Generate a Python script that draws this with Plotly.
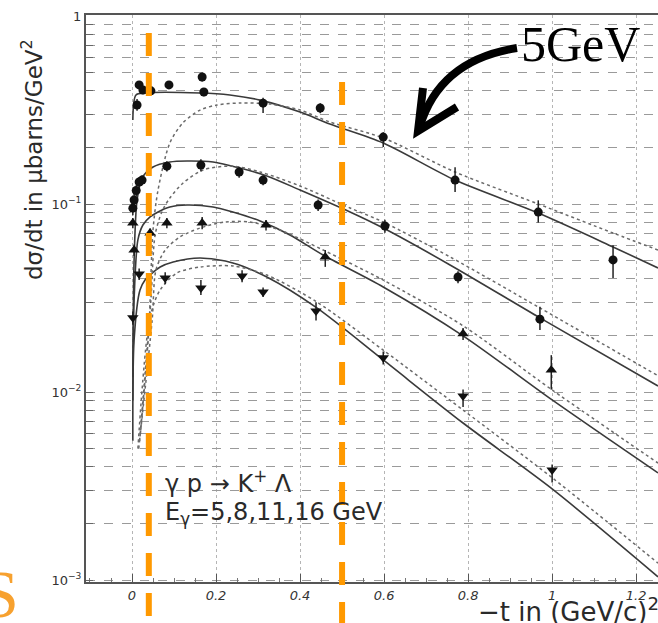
import plotly.graph_objects as go

# ---------------- data ----------------
# measured points: -t (GeV/c)^2 and dsigma/dt (microbarn/GeV^2)
t5 = [0.012, 0.017, 0.026, 0.045, 0.088, 0.167, 0.171, 0.312, 0.448, 0.598, 0.769, 0.967, 1.145]
s5 = [0.336, 0.430, 0.404, 0.400, 0.430, 0.474, 0.394, 0.344, 0.324, 0.227, 0.134, 0.0906, 0.0504]
s5_up = [0.026, 0.02, 0.02, 0.02, 0.02, 0.025, 0.02, 0.023, 0.02, 0.014, 0.023, 0.014, 0.010]
s5_dn = [0.023, 0.02, 0.02, 0.02, 0.02, 0.025, 0.02, 0.039, 0.02, 0.026, 0.018, 0.011, 0.010]

t8 = [0.002, 0.005, 0.010, 0.017, 0.024, 0.083, 0.164, 0.255, 0.312, 0.443, 0.602, 0.776, 0.971]
s8 = [0.095, 0.105, 0.118, 0.131, 0.134, 0.159, 0.161, 0.148, 0.134, 0.0988, 0.0764, 0.0409, 0.0244]
s8_up = [0.008, 0.008, 0.008, 0.008, 0.008, 0.010, 0.012, 0.010, 0.008, 0.007, 0.006, 0.003, 0.004]
s8_dn = [0.008, 0.008, 0.008, 0.008, 0.008, 0.010, 0.012, 0.010, 0.008, 0.007, 0.006, 0.003, 0.003]

t11 = [0.002, 0.005, 0.043, 0.083, 0.167, 0.319, 0.460, 0.788, 0.998]
s11 = [0.0793, 0.0569, 0.0701, 0.0793, 0.0793, 0.0773, 0.0523, 0.0204, 0.0131]
s11_up = [0.005, 0.004, 0.004, 0.005, 0.006, 0.005, 0.0046, 0.0015, 0.0026]
s11_dn = [0.005, 0.004, 0.004, 0.005, 0.006, 0.005, 0.006, 0.0015, 0.0028]

t16 = [0.002, 0.017, 0.079, 0.164, 0.262, 0.312, 0.438, 0.598, 0.788, 1.0]
s16 = [0.0248, 0.0424, 0.0404, 0.0357, 0.0414, 0.0340, 0.0270, 0.0152, 0.00952, 0.00385]
s16_up = [0.002, 0.003, 0.003, 0.0037, 0.003, 0.002, 0.003, 0.0012, 0.0008, 0.00026]
s16_dn = [0.002, 0.003, 0.003, 0.0029, 0.003, 0.002, 0.003, 0.0012, 0.0012, 0.00055]

# model curves (solid and dotted)
c5_t = [0.002, 0.0095, 0.031, 0.162, 0.233, 0.305, 0.400, 0.471, 0.598, 0.769, 0.967, 1.145, 1.252]
c5_s = [0.280, 0.380, 0.3895, 0.3895, 0.380, 0.357, 0.3085, 0.2664, 0.211, 0.134, 0.0895, 0.0591, 0.0457]
d5_t = [0.020, 0.040, 0.050, 0.062, 0.090, 0.121, 0.162, 0.202, 0.257, 0.329, 0.400, 0.471, 0.598, 0.769, 0.967, 1.145, 1.252]
d5_s = [0.006, 0.0214, 0.0727, 0.1187, 0.211, 0.270, 0.316, 0.336, 0.3446, 0.340, 0.316, 0.273, 0.2244, 0.148, 0.100, 0.0701, 0.0569]

c8_t = [0.002, 0.005, 0.012, 0.024, 0.050, 0.090, 0.131, 0.193, 0.257, 0.321, 0.400, 0.519, 0.598, 0.757, 0.971, 1.252]
c8_s = [0.012, 0.0504, 0.105, 0.1375, 0.1573, 0.1673, 0.1694, 0.1673, 0.1553, 0.141, 0.1187, 0.0907, 0.0745, 0.0474, 0.0248, 0.01076]
d8_t = [0.018, 0.045, 0.055, 0.071, 0.090, 0.121, 0.169, 0.240, 0.305, 0.400, 0.519, 0.598, 0.757, 0.971, 1.252]
d8_s = [0.0055, 0.0309, 0.0684, 0.0907, 0.1076, 0.129, 0.1517, 0.159, 0.148, 0.1247, 0.0952, 0.0802, 0.0523, 0.0280, 0.0122]

c11_t = [0.002, 0.005, 0.014, 0.026, 0.043, 0.062, 0.090, 0.131, 0.193, 0.240, 0.305, 0.376, 0.455, 0.598, 0.788, 1.0, 1.252]
c11_s = [0.009, 0.0309, 0.0644, 0.0773, 0.0853, 0.0907, 0.0964, 0.0988, 0.0964, 0.0907, 0.0812, 0.0684, 0.0535, 0.0362, 0.0199, 0.00907, 0.00371]
d11_t = [0.016, 0.048, 0.057, 0.079, 0.114, 0.162, 0.221, 0.281, 0.352, 0.455, 0.598, 0.788, 1.0, 1.252]
d11_s = [0.005, 0.0242, 0.0446, 0.0569, 0.0668, 0.0745, 0.0802, 0.0802, 0.0727, 0.0569, 0.0394, 0.0225, 0.01025, 0.00419]

c16_t = [0.002, 0.005, 0.019, 0.031, 0.043, 0.067, 0.098, 0.162, 0.240, 0.321, 0.440, 0.598, 0.788, 1.0, 1.252]
c16_s = [0.0055, 0.0189, 0.0349, 0.0394, 0.0419, 0.0462, 0.0491, 0.0516, 0.0486, 0.0409, 0.0280, 0.0148, 0.00684, 0.00305, 0.00104]
d16_t = [0.014, 0.043, 0.067, 0.107, 0.162, 0.240, 0.321, 0.440, 0.598, 0.788, 1.0, 1.252]
d16_s = [0.005, 0.0251, 0.0349, 0.0430, 0.0462, 0.0468, 0.0419, 0.0301, 0.0167, 0.00802, 0.00350, 0.00123]

# highlighted -t values (orange dashed lines)
ref_t = [0.04, 0.5]

x_ticks = [0, 0.2, 0.4, 0.6, 0.8, 1.0, 1.2]
x_tick_text = ["0", "0.2", "0.4", "0.6", "0.8", "1", "1.2"]
y_decades = [0.001, 0.01, 0.1, 1]
y_decade_text = ["10<sup>−3</sup>", "10<sup>−2</sup>", "10<sup>−1</sup>", "1"]

# ---------------- figure ----------------
W, H = 658, 623
ML, MR, MT, MB = 86, 0, 15, 41
PW, PH = W - ML - MR, H - MT - MB


def pap(px, py):
    """pixel position on the page -> paper coordinates"""
    return (px - ML) / PW, (H - MB - py) / PH


fig = go.Figure()

solid = dict(color="#3a3a3a", width=1.6)
dotted = dict(color="#6a6a6a", width=1.5, dash="dot")
for ct, cs in [(c5_t, c5_s), (c8_t, c8_s), (c11_t, c11_s), (c16_t, c16_s)]:
    fig.add_trace(go.Scatter(x=ct, y=cs, mode="lines", line=dict(shape="spline", smoothing=0.8, **solid),
                             hoverinfo="skip", showlegend=False))
for dt, ds in [(d5_t, d5_s), (d8_t, d8_s), (d11_t, d11_s), (d16_t, d16_s)]:
    fig.add_trace(go.Scatter(x=dt, y=ds, mode="lines", line=dict(shape="spline", smoothing=0.8, **dotted),
                             hoverinfo="skip", showlegend=False))

for tt, ss, up, dn, sym, sz in [
    (t5, s5, s5_up, s5_dn, "circle", 9),
    (t8, s8, s8_up, s8_dn, "circle", 9),
    (t11, s11, s11_up, s11_dn, "triangle-up", 10),
    (t16, s16, s16_up, s16_dn, "triangle-down", 10),
]:
    fig.add_trace(go.Scatter(
        x=tt, y=ss, mode="markers",
        marker=dict(symbol=sym, size=sz, color="#111111"),
        error_y=dict(type="data", symmetric=False, array=up, arrayminus=dn,
                     color="#222222", thickness=1.5, width=0),
        showlegend=False))

# y tick values: every 1..9 of each decade (grid on all of them)
y_vals, y_text = [], []
for d, lab in zip(y_decades[:-1], y_decade_text[:-1]):
    for m in range(1, 10):
        y_vals.append(m * d)
        y_text.append(lab if m == 1 else "")
y_vals.append(y_decades[-1])
y_text.append(y_decade_text[-1])

fig.update_layout(
    width=W, height=H,
    margin=dict(l=ML, r=MR, t=MT, b=MB),
    paper_bgcolor="white", plot_bgcolor="white",
    font=dict(family="DejaVu Sans", color="#2a2a2a"),
    xaxis=dict(
        range=[-0.1095, 1.252], tickvals=x_ticks, ticktext=x_tick_text,
        ticks="inside", ticklen=8, tickwidth=1.2, tickcolor="#555",
        showline=True, linecolor="#555", linewidth=2, mirror=True,
        showgrid=True, gridcolor="#b5b5b5", griddash="dot", gridwidth=1,
        zeroline=False,
        tickfont=dict(size=13, style="italic", color="#333"),
        minor=dict(dtick=0.05, tick0=0, ticks="inside", ticklen=4, tickcolor="#777", showgrid=False),
    ),
    yaxis=dict(
        type="log", range=[-3.0106, 0.0053],
        tickvals=y_vals, ticktext=y_text,
        ticks="inside", ticklen=7, tickwidth=1.2, tickcolor="#666",
        showline=True, linecolor="#555", linewidth=2,
        showgrid=True, gridcolor="#9a9a9a", griddash="dash", gridwidth=1,
        zeroline=False,
        tickfont=dict(size=13, color="#333"),
    ),
)

# orange dashed reference lines
top_y = [pap(0, 33)[1], pap(0, 82)[1]]
for xv, ty in zip(ref_t, top_y):
    fig.add_shape(type="line", xref="x", yref="paper", x0=xv, x1=xv, y0=ty, y1=pap(0, 630)[1],
                  line=dict(color="#FF9900", width=6, dash="23px,17px"))

# curved arrow towards the 5 GeV curve
ax0, ay0 = pap(517, 48)
axc, ayc = pap(440, 60)
ax1, ay1 = pap(420, 126)
fig.add_shape(type="path", xref="paper", yref="paper",
              path=f"M {ax0},{ay0} Q {axc},{ayc} {ax1},{ay1}",
              line=dict(color="black", width=8))
h1x, h1y = pap(423, 88)
h2x, h2y = pap(418, 131)
h3x, h3y = pap(457, 107)
fig.add_shape(type="path", xref="paper", yref="paper",
              path=f"M {h1x},{h1y} L {h2x},{h2y} L {h3x},{h3y}",
              line=dict(color="black", width=8))

annos = []
# y-axis title
tx, ty = pap(32, 160)
annos.append(dict(x=tx, y=ty, xref="paper", yref="paper", text="dσ/dt in μbarns/GeV<sup>2</sup>",
                  textangle=-90, showarrow=False, font=dict(size=23, color="#2a2a2a"),
                  xanchor="center", yanchor="middle"))
# x-axis title
tx, ty = pap(476, 610)
annos.append(dict(x=tx, y=ty, xref="paper", yref="paper", text="−t in (GeV/c)<sup>2</sup>",
                  showarrow=False, font=dict(size=26, color="#2a2a2a"),
                  xanchor="left", yanchor="middle"))
# reaction labels
tx, ty = pap(163, 482)
annos.append(dict(x=tx, y=ty, xref="paper", yref="paper", text="γ p → K<sup>+</sup> Λ",
                  showarrow=False, font=dict(size=24, color="#2a2a2a"),
                  xanchor="left", yanchor="middle"))
tx, ty = pap(163, 513)
annos.append(dict(x=tx, y=ty, xref="paper", yref="paper", text="E<sub>γ</sub>=5,8,11,16 GeV",
                  showarrow=False, font=dict(size=24, color="#2a2a2a"),
                  xanchor="left", yanchor="middle"))
# 5GeV label
tx, ty = pap(519, 44)
annos.append(dict(x=tx, y=ty, xref="paper", yref="paper", text="5GeV",
                  showarrow=False, font=dict(size=50, family="Liberation Serif", color="black"),
                  xanchor="left", yanchor="middle"))
# orange S at bottom left
tx, ty = pap(21, 594)
annos.append(dict(x=tx, y=ty, xref="paper", yref="paper", text="S",
                  showarrow=False, font=dict(size=68, family="Liberation Serif", color="#F7A12F"),
                  xanchor="right", yanchor="middle"))
fig.update_layout(annotations=annos)

fig.write_html("out.html")
